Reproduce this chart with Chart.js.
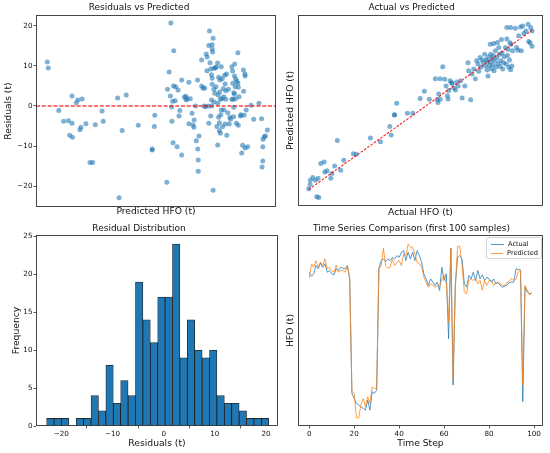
<!DOCTYPE html>
<html>
<head>
<meta charset="utf-8">
<title>HFO model diagnostics</title>
<script src="https://cdn.jsdelivr.net/npm/chart.js@4.4.0/dist/chart.umd.min.js"></script>
<style>
  html, body { margin: 0; padding: 0; background: #fff; }
  body { width: 550px; height: 453px; position: relative; overflow: hidden; font-family: "DejaVu Sans", sans-serif; }
  canvas { position: absolute; }
  #seriesLegend {
    position: absolute; left: 486px; top: 237px; width: 48px;
    padding: 2px 3px 1px 3px; border: 1px solid #d4d4d4; border-radius: 2px;
    background: rgba(255, 255, 255, 0.8); color: #111; font-size: 6.6px; line-height: 8.7px;
  }
  #seriesLegend .item { display: flex; align-items: center; height: 8.7px; white-space: nowrap; }
  #seriesLegend .swatch { display: inline-block; width: 13px; height: 1px; margin: 0 4px 0 1px; }
</style>
</head>
<body>

<canvas id="residualChart" width="280" height="225" style="left:0;top:0"></canvas>
<canvas id="actualChart" width="270" height="225" style="left:280px;top:0"></canvas>
<canvas id="histChart" width="280" height="231" style="left:0;top:222px"></canvas>
<canvas id="seriesChart" width="270" height="231" style="left:280px;top:222px"></canvas>
<div id="seriesLegend"></div>

<script>
// Residuals vs Predicted (x in scaled predicted units, no tick labels shown)
const predictedHFO = [4.7, 5.1, 9.5, 11.5, 13.5, 14.0, 15.0, 15.0, 15.2, 16.8, 17.4, 19.2, 18.3, 18.7, 20.8, 22.5, 23.6, 24.7, 27.5, 28.0,
  34.0, 35.9, 37.6, 34.6, 42.6, 48.4, 48.4, 49.5, 49.3, 54.5, 54.8, 55.5, 56.2, 56.0, 56.5, 56.6, 56.9, 57.3, 57.4, 57.1,
  58.0, 58.2, 58.8, 59.2, 59.6, 59.9, 60.7, 60.7, 61.8, 62.4, 62.6, 63.0, 63.7, 63.7, 64.3, 65.0, 65.4, 65.8, 65.9, 66.5,
  66.8, 67.3, 67.4, 67.6, 67.6, 67.9, 69.0, 69.0, 69.6, 70.0, 70.3, 70.6, 70.9, 71.3, 71.2, 71.7, 72.0, 72.0, 72.3, 72.5,
  72.8, 72.8, 73.1, 73.1, 73.1, 73.4, 73.4, 73.6, 73.4, 73.4, 73.8, 73.8, 74.1, 74.1, 74.2, 74.5, 74.7, 75.0, 75.1, 75.4,
  75.7, 75.7, 75.8, 75.9, 76.1, 76.1, 76.4, 76.4, 76.5, 76.6, 76.8, 76.8, 77.0, 77.2, 77.2, 77.5, 77.6, 77.7, 78.0, 78.2,
  78.3, 78.6, 78.8, 78.8, 79.1, 79.1, 79.4, 79.5, 79.9, 80.2, 80.5, 80.8, 81.0, 81.6, 81.6, 81.9, 82.0, 82.1, 82.3, 82.4,
  82.4, 82.7, 82.7, 82.8, 83.0, 83.1, 83.2, 83.5, 83.7, 84.1, 84.1, 84.3, 84.3, 84.6, 85.2, 85.4, 85.7, 86.1, 86.4, 86.5,
  86.7, 87.1, 87.1, 87.1, 87.6, 88.2, 89.6, 90.7, 92.9, 94.0, 94.2, 94.5, 94.5, 94.6, 95.1, 95.6, 96.4];
const residuals = [11.0, 9.5, -1.1, -3.8, -3.7, -7.3, -4.3, 2.5, -7.8, 0.8, 1.5, 1.75, -5.9, -5.3, -4.4, -14.1, -14.1, -4.7, -1.25, -3.8,
  2.0, -6.1, 2.75, -22.9, -4.8, -10.7, -11.0, -2.3, -5.1, -19.0, 4.2, 8.5, 20.7, 2.5, -0.25, -3.8, 1.2, 5.0, 13.8, -9.2,
  1.3, 4.8, -10.2, 4.0, -2.5, -1.1, 6.5, -12.25, 2.2, 2.4, 1.5, 1.8, 5.9, -4.4, 1.8, -1.8, -4.75, -5.3, -3.5, 0,
  -8.7, 6.5, -10.75, -13.5, -16.3, -7.5, 11.5, 5.0, 4.4, 0, 4.5, -0.2, 13.0, 12.2, 8.8, 0, 15.1, -4.3, 18.7, 10.8,
  -2.5, 9.2, 7.8, 1.5, 0, 15.3, 14.2, 13.5, 6.9, 5.4, 16.9, -21.0, 9.4, 4.2, 1.0, 3.2, 9.5, 4.8, 9.75, -5.1,
  -9.75, 10.7, 0.7, 2.75, 7.2, -2.8, -4.2, -6.2, 3.5, 6.5, 1.7, -6.8, -2.2, 9.8, -1.0, 1.8, 6.8, -5.2, 4.3, 2.3,
  -1.0, 7.7, 5.5, -4.5, 1.7, 3.8, 8.0, -7.3, -1.7, 4.2, -4.5, -2.8, -3.3, 9.8, 1.7, 8.7, 5.7, 1.7, -2.7, 3.3,
  -0.3, 3.0, 7.5, 10.5, 4.8, 1.8, 6.75, -4.3, 6.2, 13.3, 5.7, 4.7, -4.8, 2.3, -2.5, -2.2, -11.7, -9.8, 9.0, 3.7,
  -2.3, 8.0, 7.5, -10.5, -1.0, -10.2, 0.2, -3.3, 0.7, -3.2, -15.2, -13.7, -10.2, -8.3, -7.7, -7.5, -6.0];
const residualXLimits = [0, 100];
const residualYLimits = [-25.2, 22.7];

// Actual vs Predicted (scaled units, identity line from min to max actual)
const actualHFO = [0, 0.6, 0.7, 1.8, 3.0, 3.6, 4.5, 4.2, 5.4, 6.9, 7.2, 8.2, 9.9, 10.4, 11.6, 12.8, 14.3, 15.7, 20.0, 21.3,
  27.6, 32.1, 36.3, 36.9, 38.4, 38.4, 39.4, 44.2, 46.6, 49.9, 51.8, 54.0, 57.6, 57.9, 58.2, 58.9, 60.0, 56.7, 58.8, 60.9,
  61.5, 62.1, 62.4, 62.7, 63.3, 63.9, 64.2, 64.9, 65.7, 66.3, 66.9, 68.0, 68.7, 69.9, 71.3, 71.6, 72.5, 73.1, 73.9, 74.6,
  75.2, 75.8, 76.1, 76.7, 77.0, 77.6, 78.2, 78.8, 79.1, 79.4, 79.9, 80.0, 80.3, 80.6, 80.9, 81.2, 81.3, 81.5, 81.8, 82.1,
  82.4, 82.7, 82.8, 83.0, 83.3, 83.6, 83.9, 84.2, 84.5, 84.8, 85.1, 85.4, 85.7, 86.0, 86.3, 86.6, 86.9, 87.2, 87.5, 88.1,
  88.4, 88.7, 89.0, 89.3, 89.6, 89.9, 90.1, 90.4, 90.7, 91.0, 91.3, 88.7, 90.4, 92.5, 93.1, 93.7, 94.0, 94.8, 95.2, 95.8,
  96.3, 97.3, 98.2, 98.5, 99.1, 99.4, 100.0, 100.0];
const predictedVsActual = [0.4, 3.1, 5.8, 7.5, 5.8, -4.6, -5.0, 7.1, 16.3, 17.3, 11.0, 11.7, 7.1, 10.0, 14.8, 30.8, 12.1, 18.3, 22.5, 22.1,
  32.3, 30.0, 39.6, 34.2, 46.7, 46.9, 54.2, 47.9, 47.9, 57.1, 61.7, 56.7, 56.3, 54.6, 60.0, 56.7, 77.1, 69.6, 69.6, 69.2,
  65.0, 58.8, 56.9, 62.1, 68.3, 67.1, 66.7, 63.8, 62.5, 67.5, 65.0, 68.3, 57.5, 65.0, 79.6, 74.6, 56.3, 72.5, 75.6, 69.6,
  80.8, 78.8, 74.2, 82.9, 76.7, 81.3, 79.6, 85.0, 77.5, 81.7, 75.0, 80.4, 71.3, 83.3, 77.7, 80.0, 91.3, 85.0, 75.8, 81.9,
  78.3, 84.0, 91.7, 74.6, 80.8, 87.1, 77.1, 82.9, 92.3, 79.2, 89.2, 85.0, 77.3, 80.8, 94.2, 85.8, 75.6, 79.6, 83.3, 89.2,
  78.8, 94.6, 84.2, 87.9, 76.7, 81.3, 92.1, 75.2, 91.3, 77.5, 87.1, 101.7, 101.7, 101.3, 89.2, 87.5, 96.5, 102.1, 87.1, 102.7,
  97.9, 99.6, 103.8, 92.9, 92.1, 101.7, 99.6, 90.0];
const identityLine = [0, 100];
const actualXLimits = [-4.8, 104.9];
const actualYLimits = [-10.4, 109.6];

// Residual Distribution (30 bins)
const residualCounts = [1, 1, 1, 0, 1, 1, 4, 2, 8, 3, 6, 4, 19, 14, 11, 17, 17, 24, 9, 14, 10, 9, 10, 4, 3, 3, 2, 1, 1, 1];
const residualBinStart = -22.87;
const residualBinWidth = 1.4467;
const histXLimits = [-24.95, 22.34];
const histYLimits = [0, 25.2];

// Time Series Comparison (first 100 samples, scaled units)
const timeSteps = Array.from({ length: 100 }, (_, i) => i);
const actualSeries = [80.5, 78.4, 79.7, 84.0, 82.3, 85.4, 83.1, 84.9, 80.5, 81.4,
  79.7, 79.1, 82.3, 81.4, 83.1, 82.6, 82.3, 84.0, 77.0, 17.0,
  14.4, 11.8, 11.0, 10.1, 9.2, 8.3, 13.6, 8.3, 17.9, 17.0,
  18.8, 82.6, 86.6, 87.5, 86.1, 87.5, 86.6, 88.3, 87.5, 89.2,
  88.3, 91.0, 91.8, 86.6, 91.0, 87.5, 91.0, 86.6, 91.8, 89.2,
  85.7, 79.7, 77.0, 73.6, 77.0, 75.3, 73.6, 75.3, 71.0, 83.1,
  76.2, 79.7, 45.7, 93.0, 21.4, 73.6, 88.3, 89.2, 87.5, 74.4,
  72.7, 78.8, 77.0, 80.5, 76.2, 81.4, 77.0, 79.1, 76.2, 77.9,
  77.0, 75.3, 77.0, 74.4, 75.3, 73.6, 72.7, 73.2, 73.9, 75.0,
  75.3, 75.3, 82.3, 81.9, 81.7, 12.7, 72.7, 70.1, 69.2, 69.6];
const predictedSeries = [77.4, 84.9, 83.1, 86.6, 83.1, 85.7, 84.0, 87.5, 82.3, 83.1,
  81.4, 80.5, 84.3, 80.5, 81.4, 81.4, 80.5, 84.0, 77.0, 17.9,
  17.0, 4.3, 4.3, 11.0, 14.4, 10.1, 15.3, 11.8, 20.5, 19.7,
  19.7, 82.3, 84.0, 93.0, 84.0, 82.6, 83.1, 87.5, 84.0, 85.7,
  86.6, 84.0, 90.1, 89.2, 95.3, 93.6, 93.6, 90.1, 85.7, 84.9,
  83.1, 77.9, 75.3, 72.7, 74.4, 73.6, 72.7, 73.6, 72.7, 77.0,
  78.8, 74.4, 54.4, 93.0, 24.9, 73.6, 94.1, 94.1, 84.0, 70.1,
  69.2, 76.2, 77.0, 76.2, 77.0, 74.4, 76.2, 71.0, 76.2, 73.6,
  76.2, 76.2, 73.6, 75.3, 75.0, 74.4, 73.6, 73.6, 75.3, 75.7,
  77.4, 76.2, 77.0, 80.5, 81.7, 21.4, 73.6, 71.0, 68.7, 69.6];
const timeTicks = [0, 20, 40, 60, 80, 100];
const seriesXLimits = [-5, 104];
const seriesYLimits = [0, 100];

// Look and feel

const FONT = '"DejaVu Sans", sans-serif';
const INK = '#111';
const BLUE = '31, 119, 180';
const ORANGE = '255, 127, 14';

Chart.defaults.font.family = FONT;
Chart.defaults.color = INK;
Chart.defaults.animation = false;

const framePlugin = {
  id: 'frame',
  afterDatasetsDraw(chart) {
    const { ctx, chartArea } = chart;
    const left = Math.round(chartArea.left) + 0.5;
    const top = Math.round(chartArea.top) + 0.5;
    const right = Math.round(chartArea.right) - 0.5;
    const bottom = Math.round(chartArea.bottom) - 0.5;
    ctx.save();
    ctx.strokeStyle = '#333';
    ctx.lineWidth = 0.9;
    ctx.strokeRect(left, top, right - left, bottom - top);
    ctx.restore();
  }
};

function minusSign(value) {
  return String(value).replace('-', '\u2212');
}

function makeTitle(text, top, bottom) {
  return {
    display: true, text: text, color: INK,
    font: { family: FONT, size: 9, weight: 'normal' },
    padding: { top: top, bottom: bottom }
  };
}

function axisTitle(text, pad) {
  return {
    display: true, text: text, color: INK,
    font: { family: FONT, size: 9.2 },
    padding: { top: pad, bottom: pad }
  };
}

function plainAxis(limits, titleText, titlePad, size, isX) {
  return {
    type: 'linear', min: limits[0], max: limits[1], offset: false,
    grid: { display: false }, border: { display: false },
    ticks: { display: false },
    title: axisTitle(titleText, titlePad),
    afterFit: scale => { if (isX) { scale.height = size; } else { scale.width = size; } }
  };
}

function tickedAxis(limits, step, titleText, titlePad, size, isX) {
  return {
    type: 'linear', min: limits[0], max: limits[1], offset: false,
    grid: { display: true, drawOnChartArea: false, drawTicks: true, tickLength: 2.5, color: '#333', lineWidth: 0.8 },
    border: { display: false },
    ticks: {
      stepSize: step, includeBounds: false, padding: isX ? 1.2 : 1, color: INK,
      font: { family: FONT, size: 7.2 }, maxRotation: 0,
      callback: value => minusSign(value)
    },
    title: axisTitle(titleText, titlePad),
    afterFit: scale => { if (isX) { scale.height = size; } else { scale.width = size; } }
  };
}

function toPoints(xs, ys) {
  return xs.map((x, i) => ({ x: x, y: ys[i] }));
}

// Residuals vs Predicted

new Chart(document.querySelector('#residualChart'), {
  type: 'scatter',
  data: {
    datasets: [{
      label: 'Zero',
      type: 'line',
      data: toPoints(residualXLimits, [0, 0]),
      borderColor: 'rgba(255, 0, 0, 0.75)',
      borderWidth: 1.4,
      borderDash: [4, 1.8],
      pointRadius: 0,
      order: 0
    }, {
      label: 'Residuals',
      data: toPoints(predictedHFO, residuals),
      backgroundColor: `rgba(${BLUE}, 0.58)`,
      borderWidth: 0,
      pointRadius: 2.5,
      order: 1
    }]
  },
  options: {
    responsive: false,
    layout: { padding: { left: 0, right: 2, top: 0, bottom: 0 } },
    plugins: {
      legend: { display: false },
      tooltip: { enabled: false },
      title: makeTitle('Residuals vs Predicted', 2.1, 2.1)
    },
    scales: {
      x: plainAxis(residualXLimits, 'Predicted HFO (t)', 7.6, 18, true),
      y: tickedAxis(residualYLimits, 10, 'Residuals (t)', 3.5, 36, false)
    }
  },
  plugins: [framePlugin]
});

// Actual vs Predicted

new Chart(document.querySelector('#actualChart'), {
  type: 'scatter',
  data: {
    datasets: [{
      label: 'Identity',
      type: 'line',
      data: toPoints(identityLine, identityLine),
      borderColor: 'rgba(255, 0, 0, 0.9)',
      borderWidth: 1.1,
      borderDash: [2.5, 1.5],
      pointRadius: 0,
      order: 0
    }, {
      label: 'Samples',
      data: toPoints(actualHFO, predictedVsActual),
      backgroundColor: `rgba(${BLUE}, 0.58)`,
      borderWidth: 0,
      pointRadius: 2.5,
      order: 1
    }]
  },
  options: {
    responsive: false,
    layout: { padding: { left: 0, right: 7, top: 0, bottom: 0 } },
    plugins: {
      legend: { display: false },
      tooltip: { enabled: false },
      title: makeTitle('Actual vs Predicted', 2.1, 2.1)
    },
    scales: {
      x: plainAxis(actualXLimits, 'Actual HFO (t)', 7.2, 19, true),
      y: plainAxis(actualYLimits, 'Predicted HFO (t)', 5.4, 18, false)
    }
  },
  plugins: [framePlugin]
});

// Residual Distribution

const binCenters = residualCounts.map((_, i) => residualBinStart + residualBinWidth * (i + 0.5));

new Chart(document.querySelector('#histChart'), {
  type: 'bar',
  data: {
    datasets: [{
      label: 'Frequency',
      data: toPoints(binCenters, residualCounts),
      backgroundColor: `rgb(${BLUE})`,
      borderColor: 'rgba(0, 0, 0, 0.85)',
      borderWidth: 0.8,
      borderSkipped: 'bottom',
      barPercentage: 1,
      categoryPercentage: 1
    }]
  },
  options: {
    responsive: false,
    layout: { padding: { left: 0, right: 2, top: 0, bottom: 0 } },
    plugins: {
      legend: { display: false },
      tooltip: { enabled: false },
      title: makeTitle('Residual Distribution', 0.9, 1.3)
    },
    scales: {
      x: tickedAxis(histXLimits, 10, 'Residuals (t)', 3.8, 27, true),
      y: tickedAxis(histYLimits, 5, 'Frequency', 11.4, 36, false)
    }
  },
  plugins: [framePlugin]
});

// Time Series Comparison

const seriesChart = new Chart(document.querySelector('#seriesChart'), {
  type: 'line',
  data: {
    datasets: [{
      label: 'Actual',
      data: toPoints(timeSteps, actualSeries),
      borderColor: `rgba(${BLUE}, 0.75)`,
      borderWidth: 1,
      pointRadius: 0,
      tension: 0,
      order: 1
    }, {
      label: 'Predicted',
      data: toPoints(timeSteps, predictedSeries),
      borderColor: `rgba(${ORANGE}, 0.75)`,
      borderWidth: 1,
      pointRadius: 0,
      tension: 0,
      order: 0
    }]
  },
  options: {
    responsive: false,
    layout: { padding: { left: 0, right: 7, top: 0, bottom: 0 } },
    plugins: {
      legend: { display: false },
      tooltip: { enabled: false },
      title: makeTitle('Time Series Comparison (first 100 samples)', 0.9, 1.3)
    },
    scales: {
      x: Object.assign(tickedAxis(seriesXLimits, 20, 'Time Step', 3.9, 27, true), {
        afterBuildTicks: scale => { scale.ticks = timeTicks.map(v => ({ value: v })); }
      }),
      y: plainAxis(seriesYLimits, 'HFO (t)', 5.4, 18, false)
    }
  },
  plugins: [framePlugin]
});

// HTML legend for the time series panel
const seriesLegend = document.querySelector('#seriesLegend');
seriesLegend.innerHTML = seriesChart.data.datasets.map(ds =>
  `<div class="item"><span class="swatch" style="background:${ds.borderColor}"></span>${ds.label}</div>`
).join('');
</script>
</body>
</html>
